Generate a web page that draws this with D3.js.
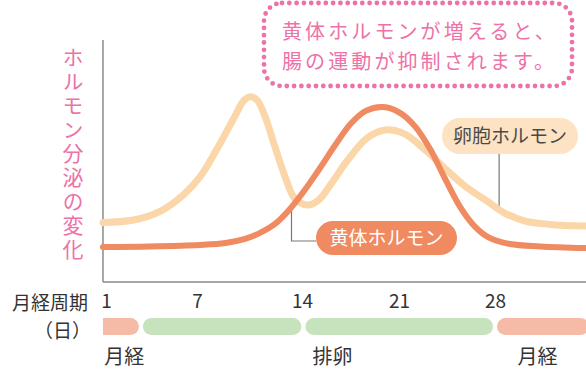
<!DOCTYPE html>
<html>
<head>
<meta charset="utf-8">
<script src="https://cdn.jsdelivr.net/npm/d3@7"></script>
<style>
  body { margin: 0; background: #fff; }
  svg { display: block; font-family: "Noto Sans CJK JP", "Noto Sans", sans-serif; }
</style>
</head>
<body>
<svg id="chart"></svg>
<script>
// cycle days shown on the axis
const dayTicks = [1, 7, 14, 21, 28];

// estrogen (卵胞ホルモン) - [day, level]
const estrogen = [
  [0.8, 24.6], [2.8, 25.6], [4.6, 29.3], [6.1, 36.0], [7.2, 43.4], [8.3, 54.6],
  [9.5, 68.2], [10.1, 74.8], [10.5, 76.5], [11.0, 75.2], [11.5, 69.0], [12.2, 55.8],
  [12.9, 43.0], [13.5, 34.7], [14.4, 31.8], [15.2, 33.9], [16.0, 39.7], [17.3, 50.4],
  [18.7, 59.5], [20.0, 62.8], [21.4, 61.2], [22.9, 54.6], [24.4, 46.7], [25.8, 39.7],
  [27.4, 33.5], [28.7, 28.5], [30.2, 25.2], [32.0, 23.8], [34.6, 23.1]
];

// progesterone (黄体ホルモン) - [day, level]
const progesterone = [
  [0.8, 14.5], [3.9, 14.7], [7.2, 15.3], [8.9, 16.1], [10.2, 17.8], [11.2, 20.3],
  [12.2, 24.0], [13.2, 30.2], [14.2, 38.0], [15.3, 47.1], [16.4, 56.6], [17.5, 65.3],
  [18.6, 70.7], [19.85, 72.3], [21.1, 69.8], [22.2, 64.1], [23.3, 54.6], [24.4, 42.2],
  [25.5, 30.6], [26.5, 23.1], [27.6, 18.2], [29.1, 15.7], [31.3, 14.7], [34.6, 14.0]
];

// phase bars under the axis
const phases = [
  { start: 0.8, end: 3.3, kind: "menses" },
  { start: 3.3, end: 14.1, kind: "other" },
  { start: 14.1, end: 28.0, kind: "other" },
  { start: 28.0, end: 35.0, kind: "menses" }
];

// phase names and the day they sit under
const phaseLabels = [
  { text: "月経", day: 2.2 },
  { text: "排卵", day: 16.2 },
  { text: "月経", day: 31.1 }
];

const yTitle = "ホルモン分泌の変化";
const xTitleLines = ["月経周期", "（日）"];
const calloutLines = ["黄体ホルモンが増えると、", "腸の運動が抑制されます。"];
const estrogenName = "卵胞ホルモン";
const progesteroneName = "黄体ホルモン";

const W = 586, H = 370;
const colors = {
  estrogen: "#fbd6a9",
  progesterone: "#ef8a61",
  estrogenBox: "#fde3c4",
  pink: "#ec72a8",
  menses: "#f6bba7",
  other: "#c7e3be",
  axis: "#8a8a8a",
  text: "#333"
};

const svg = d3.select("#chart").attr("width", W).attr("height", H);

// the day labels are not evenly spaced in the picture, so a piecewise scale
const x = d3.scaleLinear()
  .domain(dayTicks)
  .range([106, 197, 302, 399, 495]);

const y = d3.scaleLinear()
  .domain([0, 100])
  .range([282, 40]);

const x0 = x(estrogen[0][0]);

// axes frame
svg.append("line")
  .attr("x1", x0).attr("x2", x0)
  .attr("y1", y(100)).attr("y2", y(0))
  .attr("stroke", colors.axis).attr("stroke-width", 1.5);
svg.append("line")
  .attr("x1", x0).attr("x2", W)
  .attr("y1", y(0)).attr("y2", y(0))
  .attr("stroke", colors.axis).attr("stroke-width", 1.5);

// day labels
const xAxis = d3.axisBottom(x).tickValues(dayTicks).tickSize(0).tickPadding(13);
const xAxisG = svg.append("g")
  .attr("transform", `translate(0,${y(0)})`)
  .call(xAxis);
xAxisG.select(".domain").remove();
xAxisG.selectAll("text")
  .attr("font-size", 19)
  .attr("font-family", "'Noto Sans CJK JP', sans-serif")
  .attr("fill", colors.text);

// x title, two lines
svg.append("g").selectAll("text")
  .data(xTitleLines)
  .join("text")
  .attr("text-anchor", "end")
  .attr("font-size", 19).attr("fill", colors.text)
  .attr("x", (d, i) => i === 0 ? 88 : 91)
  .attr("y", (d, i) => 309.5 + i * 28)
  .text(d => d);

// vertical y title
svg.append("text")
  .attr("x", 73).attr("y", 47)
  .style("writing-mode", "vertical-rl")
  .attr("font-size", 21)
  .attr("letter-spacing", 2.9)
  .attr("fill", colors.pink)
  .text(yTitle);

// phase bars
const barY = 318, barH = 17, gap = 4;
const bars = svg.append("g");
phases.forEach((p, i) => {
  const left = x(p.start) + (i > 0 ? gap / 2 : 0);
  const right = x(p.end) - gap / 2;
  bars.append("rect")
    .attr("x", left).attr("y", barY)
    .attr("width", right - left).attr("height", barH)
    .attr("rx", barH / 2)
    .attr("fill", colors[p.kind]);
  if (i === 0) {
    // first bar starts flat on the y axis
    bars.append("rect")
      .attr("x", left).attr("y", barY)
      .attr("width", barH / 2).attr("height", barH)
      .attr("fill", colors[p.kind]);
  }
});

svg.append("g").selectAll("text")
  .data(phaseLabels)
  .join("text")
  .attr("x", d => x(d.day))
  .attr("y", 364)
  .attr("text-anchor", "middle")
  .attr("font-size", 20)
  .attr("fill", colors.text)
  .text(d => d.text);

// helper to find the curve level at a given day
function levelAt(series, day) {
  const i = d3.bisector(d => d[0]).left(series, day);
  const a = series[Math.max(0, i - 1)], b = series[Math.min(series.length - 1, i)];
  if (a === b) return a[1];
  const t = (day - a[0]) / (b[0] - a[0]);
  return a[1] + t * (b[1] - a[1]);
}

// leader lines
const progLeaderDay = 13.3;
const progBoxX = 316, progBoxY = 221, progBoxW = 141, progBoxH = 34;
svg.append("path")
  .attr("d", `M${x(progLeaderDay)},${y(levelAt(progesterone, progLeaderDay))}` +
             `V${progBoxY + progBoxH / 2 + 3}H${progBoxX}`)
  .attr("fill", "none")
  .attr("stroke", "#777").attr("stroke-width", 1.2);

const estLeaderDay = 28.3;
const estBoxX = 442, estBoxY = 118, estBoxW = 136, estBoxH = 36;
svg.append("line")
  .attr("x1", x(estLeaderDay)).attr("x2", x(estLeaderDay))
  .attr("y1", estBoxY + estBoxH)
  .attr("y2", y(levelAt(estrogen, estLeaderDay)))
  .attr("stroke", "#777").attr("stroke-width", 1.2);

// hormone curves
const line = d3.line()
  .x(d => x(d[0]))
  .y(d => y(d[1]))
  .curve(d3.curveCatmullRom.alpha(0.5));

svg.append("path")
  .datum(estrogen)
  .attr("d", line)
  .attr("fill", "none")
  .attr("stroke", colors.estrogen)
  .attr("stroke-width", 7)
  .attr("stroke-linecap", "round");

svg.append("path")
  .datum(progesterone)
  .attr("d", line)
  .attr("fill", "none")
  .attr("stroke", colors.progesterone)
  .attr("stroke-width", 6)
  .attr("stroke-linecap", "round");

// series labels
svg.append("rect")
  .attr("x", estBoxX).attr("y", estBoxY)
  .attr("width", estBoxW).attr("height", estBoxH)
  .attr("rx", estBoxH / 2)
  .attr("fill", colors.estrogenBox);
svg.append("text")
  .attr("x", estBoxX + estBoxW / 2).attr("y", estBoxY + estBoxH / 2 + 7)
  .attr("text-anchor", "middle")
  .attr("font-size", 19)
  .attr("fill", "#4a4a4a")
  .text(estrogenName);

svg.append("rect")
  .attr("x", progBoxX).attr("y", progBoxY)
  .attr("width", progBoxW).attr("height", progBoxH)
  .attr("rx", progBoxH / 2)
  .attr("fill", colors.progesterone);
svg.append("text")
  .attr("x", progBoxX + progBoxW / 2).attr("y", progBoxY + progBoxH / 2 + 7)
  .attr("text-anchor", "middle")
  .attr("font-size", 19)
  .attr("fill", "#fff")
  .text(progesteroneName);

// dotted callout
svg.append("rect")
  .attr("x", 264).attr("y", 3)
  .attr("width", 308).attr("height", 83)
  .attr("rx", 18)
  .attr("fill", "#fff")
  .attr("stroke", colors.pink)
  .attr("stroke-width", 4.8)
  .attr("stroke-linecap", "round")
  .attr("stroke-dasharray", "0 7.3");

svg.append("g").selectAll("text")
  .data(calloutLines)
  .join("text")
  .attr("x", 282)
  .attr("y", (d, i) => 39 + i * 29.5)
  .attr("font-size", 20)
  .attr("letter-spacing", 3.1)
  .attr("fill", colors.pink)
  .text(d => d);
</script>
</body>
</html>
